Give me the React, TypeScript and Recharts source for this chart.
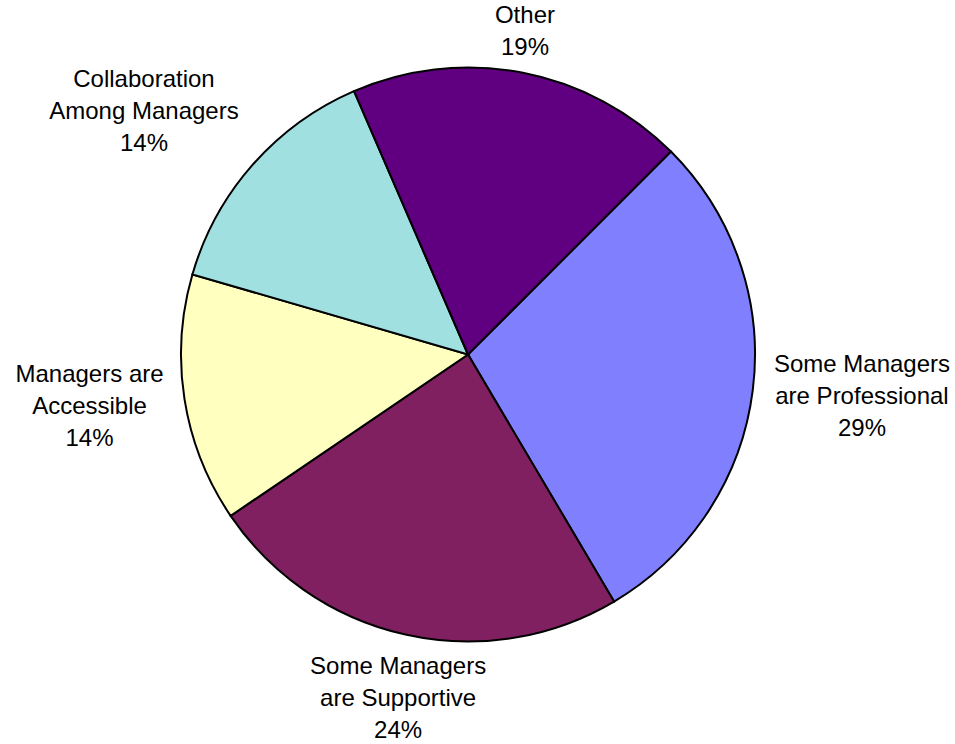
import { PieChart, Pie, Cell } from 'recharts';

// Slices in drawing order, clockwise from the 45° mark (upper right)
const categories = [
  'Some Managers are Professional',
  'Some Managers are Supportive',
  'Managers are Accessible',
  'Collaboration Among Managers',
  'Other',
];
const shares = [29, 24, 14, 14, 19];
const sliceColors = ['#8080FF', '#802060', '#FFFFC0', '#A0E0E0', '#600080'];

const data = categories.map((name, i) => ({ name, value: shares[i] }));
const total = shares.reduce((a, b) => a + b, 0);

const FONT = '"Liberation Sans", Arial, Helvetica, sans-serif';
const FONT_SIZE = 24;
const LINE_HEIGHT = 32;
const RADIAN = Math.PI / 180;

// greedy word wrap, the labels break at about 16 characters
const wrap = (text: string, max = 16): string[] => {
  const out: string[] = [];
  let cur = '';
  text.split(' ').forEach(word => {
    const next = cur ? `${cur} ${word}` : word;
    if (next.length > max && cur) {
      out.push(cur);
      cur = word;
    } else {
      cur = next;
    }
  });
  if (cur) out.push(cur);
  return out;
};

let ctx: CanvasRenderingContext2D | null = null;
const textWidth = (s: string): number => {
  if (!ctx) ctx = document.createElement('canvas').getContext('2d');
  if (!ctx) return s.length * FONT_SIZE * 0.55;
  ctx.font = `${FONT_SIZE}px ${FONT}`;
  return ctx.measureText(s).width;
};

// 0 while the direction is close to an axis, 1 once it leans clearly to one side
const lean = (t: number) => Math.sign(t) * Math.min(1, Math.max(0, (Math.abs(t) - 0.2) / 0.45));

const renderLabel = (props: any) => {
  const { cx, cy, midAngle, outerRadius, index, value } = props;
  const lines = [...wrap(categories[index]), `${Math.round((value / total) * 100)}%`];
  const dx = Math.cos(-midAngle * RADIAN);
  const dy = Math.sin(-midAngle * RADIAN);
  const hw = Math.max(...lines.map(textWidth)) / 2;
  const hh = ((lines.length - 1) * LINE_HEIGHT + 24) / 2;
  // a little tighter above/below so the top and bottom labels stay on the page
  const r = outerRadius + 22 - 5 * Math.abs(dy);
  const x = cx + dx * r + lean(dx) * hw;
  const y = cy + dy * r + lean(dy) * hh;
  return (
    <text
      key={`label-${index}`}
      textAnchor="middle"
      fontFamily={FONT}
      fontSize={FONT_SIZE}
      fill="#000"
    >
      {lines.map((line, i) => (
        <tspan key={i} x={x} y={y + 11 + (i - (lines.length - 1) / 2) * LINE_HEIGHT}>
          {line}
        </tspan>
      ))}
    </text>
  );
};

export default function App() {
  return (
    <div style={{ width: 955, height: 744, background: '#fff' }}>
      <style>{'body{margin:0;}'}</style>
      <PieChart width={955} height={744} margin={{ top: 0, right: 0, bottom: 0, left: 0 }}>
        <Pie
          data={data}
          dataKey="value"
          nameKey="name"
          cx={468}
          cy={354.5}
          outerRadius={287}
          startAngle={45}
          endAngle={-315}
          stroke="#000"
          strokeWidth={2}
          label={renderLabel}
          labelLine={false}
          isAnimationActive={false}
        >
          {data.map((item, index) => (
            <Cell key={`cell-${item.name}`} fill={sliceColors[index]} />
          ))}
        </Pie>
      </PieChart>
    </div>
  );
}
